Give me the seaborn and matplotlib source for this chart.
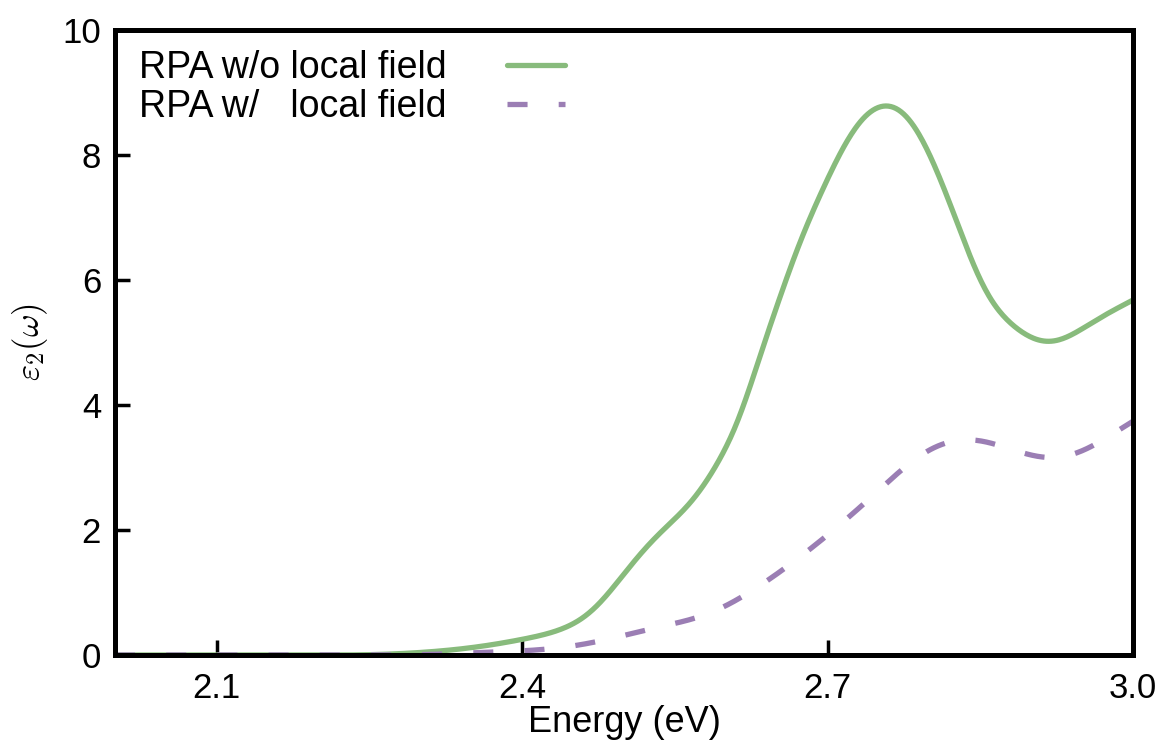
import numpy as np
import pandas as pd
import matplotlib
matplotlib.use("Agg")
import matplotlib.pyplot as plt
import seaborn as sns

energy_wo = [2.00, 2.10, 2.20, 2.25, 2.29, 2.33, 2.38, 2.40, 2.437, 2.470, 2.503, 2.535,
             2.568, 2.594, 2.620, 2.630, 2.650, 2.670, 2.686, 2.706, 2.725, 2.751,
             2.782, 2.806, 2.830, 2.854, 2.879, 2.919, 2.959, 3.00]
eps_wo = [0.0, 0.0, 0.0, 0.005, 0.03, 0.08, 0.19, 0.25, 0.40, 0.72, 1.36, 1.95,
          2.48, 3.12, 4.08, 4.61, 5.57, 6.50, 7.12, 7.83, 8.40, 8.80,
          8.56, 7.81, 6.80, 5.84, 5.31, 5.00, 5.31, 5.68]

energy_w = [2.00, 2.10, 2.20, 2.30, 2.36, 2.444, 2.481, 2.532, 2.583, 2.627, 2.673,
            2.714, 2.754, 2.794, 2.842, 2.890, 2.920, 2.950, 2.992, 3.00]
eps_w = [0.0, 0.0, 0.0, 0.005, 0.04, 0.13, 0.24, 0.44, 0.66, 1.04, 1.57,
         2.11, 2.69, 3.23, 3.45, 3.24, 3.15, 3.26, 3.66, 3.74]

labels = ["RPA w/o local field", "RPA w/   local field"]
xticks = [2.1, 2.4, 2.7, 3.0]
yticks = [0, 2, 4, 6, 8, 10]

sns.set_style("white")
plt.rcParams['font.family'] = ['Liberation Sans', 'DejaVu Sans']
plt.rcParams['mathtext.fontset'] = 'cm'
plt.rcParams['text.color'] = 'black'
plt.rcParams['axes.labelcolor'] = 'black'
plt.rcParams['xtick.color'] = 'black'
plt.rcParams['ytick.color'] = 'black'


def natural_spline(xs, ys, xf):
    xs = np.asarray(xs, float); ys = np.asarray(ys, float)
    n = len(xs); h = np.diff(xs)
    A = np.zeros((n, n)); b = np.zeros(n)
    A[0, 0] = 1; A[-1, -1] = 1
    for i in range(1, n - 1):
        A[i, i - 1] = h[i - 1]; A[i, i] = 2 * (h[i - 1] + h[i]); A[i, i + 1] = h[i]
        b[i] = 6 * ((ys[i + 1] - ys[i]) / h[i] - (ys[i] - ys[i - 1]) / h[i - 1])
    M = np.linalg.solve(A, b)
    idx = np.clip(np.searchsorted(xs, xf) - 1, 0, n - 2)
    x0 = xs[idx]; x1 = xs[idx + 1]; hh = h[idx]
    return (M[idx] * (x1 - xf)**3 / (6 * hh) + M[idx + 1] * (xf - x0)**3 / (6 * hh)
            + (ys[idx] / hh - M[idx] * hh / 6) * (x1 - xf)
            + (ys[idx + 1] / hh - M[idx + 1] * hh / 6) * (xf - x0))


def smooth(xs, ys):
    xf = np.linspace(xs[0], xs[-1], 800)
    yf = natural_spline(xs, ys, xf)
    k = 25
    pad = np.pad(yf, k // 2, mode='reflect', reflect_type='odd')
    yf = np.convolve(pad, np.ones(k) / k, mode='valid')
    return xf, np.clip(yf, 0, None)


fig = plt.figure(figsize=(11.65, 7.45), dpi=100)
ax = fig.add_axes([0.0987, 0.1208, 0.8738, 0.8389])

x1, y1 = smooth(energy_wo, eps_wo)
x2, y2 = smooth(energy_w, eps_w)
df1 = pd.DataFrame({"E": x1, "eps": y1})
df2 = pd.DataFrame({"E": x2, "eps": y2})

sns.lineplot(data=df1, x="E", y="eps", ax=ax, color="#88bb7c", lw=3.8, label=labels[0])
sns.lineplot(data=df2, x="E", y="eps", ax=ax, color="#9b7eb4", lw=3.8, label=labels[1])
ax.lines[1].set_dashes([3.8, 5.9])
ax.lines[1].set_dash_capstyle('butt')

ax.set_xlim(2.0, 3.0)
ax.set_ylim(0, 10)
ax.set_xticks(xticks)
ax.set_xticklabels([f"{t:.1f}" for t in xticks])
ax.set_yticks(yticks)
ax.set_yticklabels([str(t) for t in yticks])
ax.tick_params(axis='both', direction='in', length=11, width=2.5, labelsize=25,
               top=False, right=False, bottom=True, left=True)
ax.tick_params(axis='x', pad=12)
ax.tick_params(axis='y', pad=10)
for s in ax.spines.values():
    s.set_linewidth(3.6)
    s.set_color('black')

ax.set_xlabel("Energy (eV)", fontsize=26, labelpad=0)
ax.set_ylabel(r"$\varepsilon_2(\omega)$", fontsize=25, labelpad=9)

leg = ax.legend(loc='upper left', bbox_to_anchor=(-0.002, 1.0105), frameon=False,
                markerfirst=False, fontsize=27, handlelength=1.55, handletextpad=1.6,
                borderaxespad=0.15, borderpad=0.55, labelspacing=0.1)
for h in leg.get_lines():
    h.set_linewidth(3.8)

fig.savefig("out.png", dpi=100)
